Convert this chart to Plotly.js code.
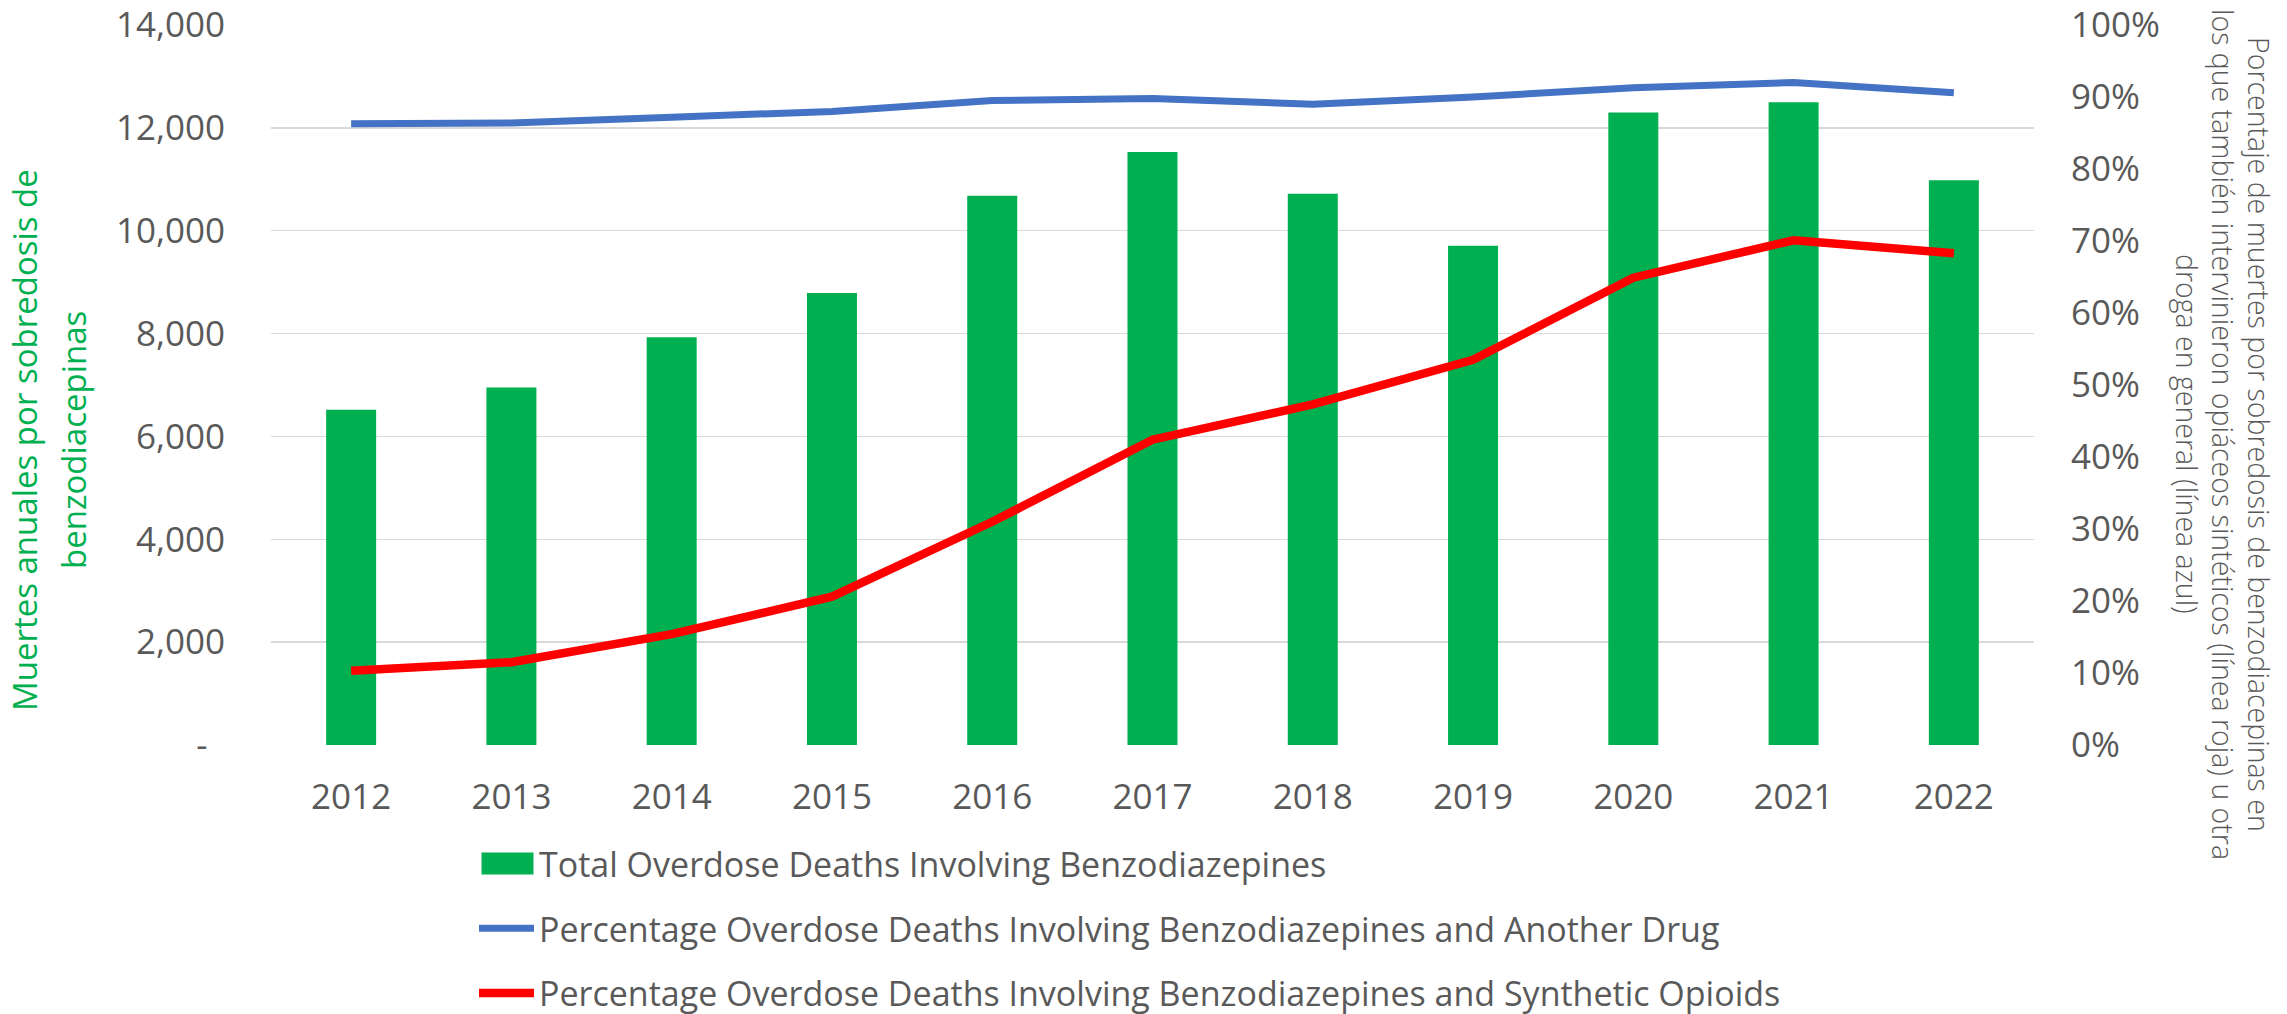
<!DOCTYPE html>
<html><head><meta charset="utf-8">
<script src="https://cdn.plot.ly/plotly-3.0.1.min.js"></script>
<style>html,body{margin:0;padding:0;background:#fff;}#chart{width:2287px;height:1014px;}</style>
</head><body><div id="chart"></div>
<script>
const years = ['2012','2013','2014','2015','2016','2017','2018','2019','2020','2021','2022'];
const totalDeaths = [6520, 6950, 7930, 8790, 10680, 11530, 10720, 9710, 12300, 12500, 10980];
const pctAnotherDrug = [86.3, 86.4, 87.2, 88.0, 89.5, 89.8, 89.0, 90.0, 91.3, 92.0, 90.6];
const pctSynthOpioids = [10.3, 11.5, 15.4, 20.6, 31.0, 42.4, 47.3, 53.5, 64.9, 70.1, 68.3];
const leftTickVals = [0, 2000, 4000, 6000, 8000, 10000, 12000, 14000];
const leftTickText = ['-\u2002', '2,000', '4,000', '6,000', '8,000', '10,000', '12,000', '14,000'];
const rightTickVals = [0, 10, 20, 30, 40, 50, 60, 70, 80, 90, 100];
const rightTickText = ['0%', '10%', '20%', '30%', '40%', '50%', '60%', '70%', '80%', '90%', '100%'];
const seriesNames = [
  'Total Overdose Deaths Involving Benzodiazepines',
  'Percentage Overdose Deaths Involving Benzodiazepines and Another Drug',
  'Percentage Overdose Deaths Involving Benzodiazepines and Synthetic Opioids'
];
const leftTitleLines = ['Muertes anuales por sobredosis de', 'benzodiacepinas'];
const rightTitleLines = [
  'Porcentaje de muertes por sobredosis de benzodiacepinas en',
  'los que también intervinieron opiáceos sintéticos (línea roja) u otra',
  'droga en general (línea azul)'
];

const W = 2287, H = 1014;
const L = 271, R = 2034, T = 25, B = 745;
const pw = R - L, ph = B - T;
const px = x => (x - L) / pw;
const py = y => (B - y) / ph;

const grey = '#595959';
const tickFont = {family: 'Open Sans, sans-serif', size: 35, color: grey};

const traces = [
  {type: 'bar', x: years, y: totalDeaths, name: seriesNames[0], marker: {color: '#00B050'},
   legendgroup: 'a', yaxis: 'y'},
  {type: 'scatter', mode: 'lines', x: years, y: pctAnotherDrug, name: seriesNames[1],
   line: {color: '#4472C4', width: 7}, legendgroup: 'b', yaxis: 'y2'},
  {type: 'scatter', mode: 'lines', x: years, y: pctSynthOpioids, name: seriesNames[2],
   line: {color: '#FF0000', width: 8.5}, legendgroup: 'c', yaxis: 'y2'}
];

const ann = [];
const leftX = [25, 74];
leftTitleLines.forEach((t, i) => ann.push({
  text: t, xref: 'paper', yref: 'paper', x: px(leftX[i]), y: py(440),
  xanchor: 'center', yanchor: 'middle', textangle: -90, showarrow: false,
  font: {family: 'Open Sans, sans-serif', size: 33, color: '#00B050'}
}));
const rightX = [2259, 2223, 2187];
rightTitleLines.forEach((t, i) => ann.push({
  text: t, xref: 'paper', yref: 'paper', x: px(rightX[i]), y: py(434), textangle: 90, showarrow: false,
  xanchor: 'center', yanchor: 'middle',
  font: {family: 'Open Sans, sans-serif', size: 28.5, weight: 300, color: grey}
}));

const layout = {
  width: W, height: H,
  margin: {l: L, r: W - R, t: T, b: H - B, pad: 0, autoexpand: false},
  paper_bgcolor: '#fff', plot_bgcolor: '#fff',
  showlegend: true,
  bargap: 0.688,
  xaxis: {type: 'category', tickfont: tickFont, tickangle: 0, showgrid: false, zeroline: false, showline: false,
          ticks: '', ticklabelstandoff: 28, fixedrange: true, automargin: false},
  yaxis: {range: [0, 14000], tickvals: leftTickVals, ticktext: leftTickText, tickfont: tickFont,
          showgrid: true, gridcolor: '#D9D9D9', gridwidth: 1.5, zeroline: false, showline: false,
          ticks: '', ticklabelstandoff: 45, fixedrange: true, automargin: false},
  yaxis2: {range: [0, 100], overlaying: 'y', side: 'right', tickvals: rightTickVals, ticktext: rightTickText,
           tickfont: tickFont, showgrid: false, zeroline: false, showline: false, ticks: '',
           ticklabelstandoff: 36, fixedrange: true, automargin: false},
  legend: {orientation: 'v', xref: 'container', yref: 'container', x: 474 / W, xanchor: 'left',
           y: 1 - 835 / H, yanchor: 'top', traceorder: 'grouped', tracegroupgap: 17.5,
           itemwidth: 55, font: {family: 'Open Sans, sans-serif', size: 34, color: grey},
           bgcolor: 'rgba(0,0,0,0)'},
  annotations: ann,
  hovermode: false
};

Plotly.newPlot('chart', traces, layout, {staticPlot: true, displayModeBar: false}).then(gd => {
  // widen the bar legend swatch to the reference's wide rectangle
  const items = gd.querySelectorAll('.legend .traces');
  if (items.length) {
    items[0].querySelectorAll('.legendpoints path').forEach(p => {
      p.setAttribute('d', 'M27,11H-25V-11H27Z');
    });
  }
});
</script></body></html>
